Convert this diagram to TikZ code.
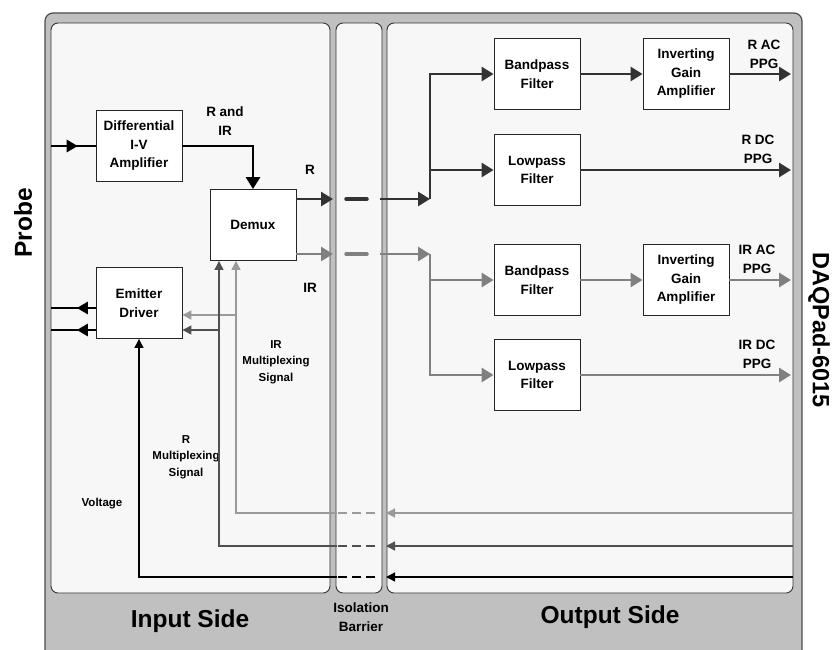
\documentclass[tikz,border=0pt]{standalone}
\usepackage{fontspec}
\setmainfont{Liberation Sans}
\usetikzlibrary{arrows.meta}
\usetikzlibrary{decorations.markings}

\definecolor{rline}{HTML}{333333}
\definecolor{irline}{HTML}{808080}
\definecolor{rmux}{HTML}{505050}
\definecolor{irmux}{HTML}{9A9A9A}
\definecolor{frame}{HTML}{C0C0C0}
\definecolor{panel}{HTML}{F7F7F7}

\begin{document}
\begin{tikzpicture}[x=1pt, y=-1pt,
  blk/.style={draw=black!85, fill=white, line width=0.9pt, minimum width=86pt, minimum height=71pt, inner sep=0pt, align=center, font=\fontsize{13.5}{18.5}\selectfont\bfseries},
  lab/.style={align=center, inner sep=0pt, font=\fontsize{13.5}{19}\selectfont\bfseries},
  slab/.style={align=center, inner sep=0pt, font=\fontsize{11.5}{16.5}\selectfont\bfseries},
  bigl/.style={inner sep=0pt, font=\fontsize{24.5}{28}\selectfont\bfseries},
  pane/.style={draw=black!80, fill=panel, line width=0.9pt, rounded corners=7pt},
  fat/.style={line width=2.8pt, -{Triangle[length=12pt,width=14pt]}},
  fb/.style={line width=1.3pt, -{Triangle[length=9pt,width=9pt]}},
  bar/.style={line width=3.5pt, line cap=round},
  fbbar/.style={line width=2pt, dash pattern=on 9pt off 5pt},
  midarrow/.style={decoration={markings, mark=at position #1 with {\arrow{Triangle[length=11pt,width=12pt]}}}, postaction={decorate}},
]
\useasboundingbox (0,0) rectangle (833,649);

% frame and panels
\draw[draw=black!70, fill=frame, line width=1.2pt, rounded corners=8pt] (45,13) rectangle (802,680);
\draw[pane] (51,23) rectangle (330,593);
\draw[pane] (336,23) rectangle (382,593);
\draw[pane] (387,23) rectangle (793,593);

\node[bigl] (ins) at (190,621) {Input Side};
\node[bigl] (outs) at (610,617) {Output Side};
\node[lab] (iso) at (361,617) {Isolation\\Barrier};
\node[bigl, rotate=90] (probe) at (23,223) {Probe};
\node[bigl, rotate=-90, font=\fontsize{23.5}{28}\selectfont\bfseries] (daq) at (819,330) {DAQPad-6015};

% blocks
\node[blk] (diff) at (139,146) {Differential\\I-V\\Amplifier};
\node[blk] (demux) at (253,225) {Demux};
\node[blk] (emit) at (139,303) {Emitter\\Driver};
\node[blk] (bp1) at (537,74) {Bandpass\\Filter};
\node[blk] (inv1) at (686,74) {Inverting\\Gain\\Amplifier};
\node[blk] (lp1) at (537,170) {Lowpass\\Filter};
\node[blk] (bp2) at (537,280) {Bandpass\\Filter};
\node[blk] (inv2) at (686,280) {Inverting\\Gain\\Amplifier};
\node[blk] (lp2) at (537,375) {Lowpass\\Filter};

% labels
\node[lab] (randir) at (225,121) {R and\\IR};
\node[lab] (rl) at (310,170) {R};
\node[lab] (irl) at (310,288) {IR};
\node[lab] (rac) at (764,54) {R AC\\PPG};
\node[lab] (rdc) at (758,149) {R DC\\PPG};
\node[lab] (irac) at (757,259) {IR AC\\PPG};
\node[lab] (irdc) at (757,354) {IR DC\\PPG};
\node[slab] (irm) at (276,362) {IR\\Multiplexing\\Signal};
\node[slab] (rm) at (186,457) {R\\Multiplexing\\Signal};
\node[slab] (volt) at (102,504) {Voltage};

% probe side
\coordinate (pin) at (51,146);
\coordinate (pout1) at (51,308);
\coordinate (pout2) at (51,330);
\draw[line width=2.8pt, midarrow=0.6] (pin) -- (diff);
\draw[line width=2.8pt, midarrow=0.42] (emit.west |- pout1) -- (pout1);
\draw[line width=2.8pt, midarrow=0.42] (emit.west |- pout2) -- (pout2);
\draw[fat, black] (diff) -| (demux);

% R path
\coordinate (ra) at (333,199);
\coordinate (rb) at (346,199);
\coordinate (rc) at (367,199);
\coordinate (rd) at (380,199);
\coordinate (rj) at (430,199);
\draw[fat, rline] (demux.east |- ra) -- (ra);
\draw[bar, rline] (rb) -- (rc);
\draw[fat, rline] (rd) -- (rj);
\draw[fat, rline] (rj) |- (bp1);
\draw[fat, rline] (rj) |- (lp1);
\draw[fat, rline] (bp1) -- (inv1);
\coordinate (o1) at (791,74);
\coordinate (o2) at (791,170);
\draw[fat, rline] (inv1) -- (o1);
\draw[fat, rline] (lp1) -- (o2);

% IR path
\coordinate (ia) at (333,254);
\coordinate (ib) at (346,254);
\coordinate (ic) at (367,254);
\coordinate (id) at (380,254);
\coordinate (ij) at (430,254);
\draw[fat, irline] (demux.east |- ia) -- (ia);
\draw[bar, irline] (ib) -- (ic);
\draw[fat, irline] (id) -- (ij);
\draw[fat, irline] (ij) |- (bp2);
\draw[fat, irline] (ij) |- (lp2);
\draw[fat, irline] (bp2) -- (inv2);
\coordinate (o3) at (791,280);
\coordinate (o4) at (791,375);
\draw[fat, irline] (inv2) -- (o3);
\draw[fat, irline] (lp2) -- (o4);

% IR multiplexing signal
\coordinate (m1) at (793,513);
\coordinate (m2) at (386,513);
\coordinate (m3) at (375,513);
\coordinate (m4) at (337,513);
\coordinate (m5) at (236,513);
\coordinate (ej1) at (236,315);
\draw[fb, irmux] (m1) -- (m2);
\draw[fbbar, irmux] (m3) -- (m4);
\draw[fb, irmux] (m4) -- (m5) -- (demux.south -| m5);
\draw[fb, irmux] (ej1) -- (emit.east |- ej1);

% R multiplexing signal
\coordinate (n1) at (793,546);
\coordinate (n2) at (386,546);
\coordinate (n3) at (375,546);
\coordinate (n4) at (337,546);
\coordinate (n5) at (219,546);
\coordinate (ej2) at (219,330);
\draw[fb, rmux] (n1) -- (n2);
\draw[fbbar, rmux] (n3) -- (n4);
\draw[fb, rmux] (n4) -- (n5) -- (demux.south -| n5);
\draw[fb, rmux] (ej2) -- (emit.east |- ej2);

% voltage
\coordinate (v1) at (793,577);
\coordinate (v2) at (386,577);
\coordinate (v3) at (375,577);
\coordinate (v4) at (337,577);
\coordinate (v5) at (139,577);
\draw[fb, black] (v1) -- (v2);
\draw[fbbar, black] (v3) -- (v4);
\draw[fb, black] (v4) -- (v5) -- (emit);
\end{tikzpicture}
\end{document}
